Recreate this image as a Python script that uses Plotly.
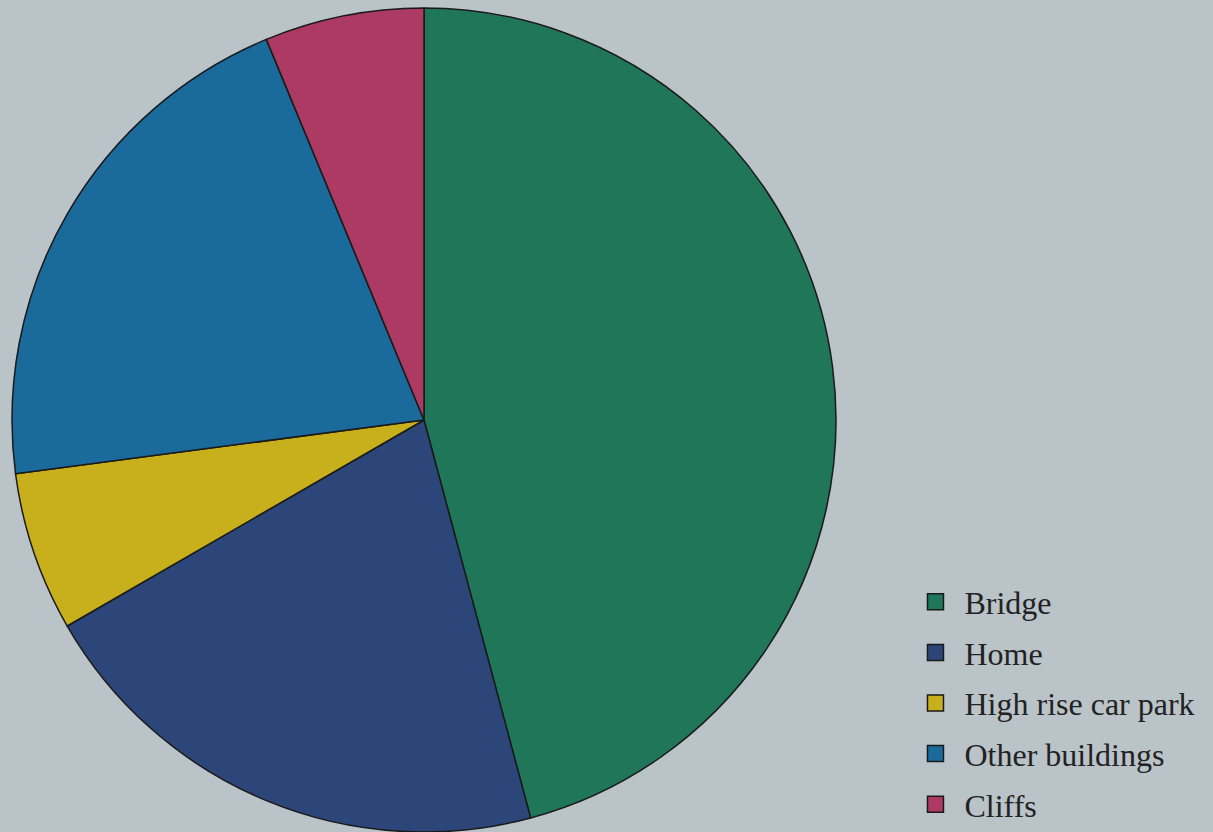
import plotly.graph_objects as go

labels = ["Bridge", "Home", "High rise car park", "Other buildings", "Cliffs"]
values = [22, 10, 3, 10, 3]
colors = ["#1f7658", "#2d4679", "#c8b01c", "#1a6b9c", "#ac3a62"]

bg = "#b9c3c8"

fig = go.Figure()
fig.add_trace(go.Pie(
    labels=labels, values=values, sort=False, direction="clockwise", rotation=0,
    marker=dict(colors=colors, line=dict(color="#1a1a1a", width=1.5)),
    textinfo="none", showlegend=False,
    domain=dict(x=[11/1213, 837/1213], y=[0, 824/832]),
))
for lab, col in zip(labels, colors):
    fig.add_trace(go.Scatter(
        x=[None], y=[None], mode="markers", name=lab, legendgroup=lab,
        marker=dict(symbol="square", size=18, color=col, line=dict(color="#1a1a1a", width=1.5)),
    ))

fig.update_layout(
    width=1213, height=832,
    margin=dict(l=0, r=0, t=0, b=0, autoexpand=False),
    paper_bgcolor=bg, plot_bgcolor=bg,
    xaxis=dict(visible=False), yaxis=dict(visible=False),
    legend=dict(
        x=0.7473, y=0.3095, xanchor="left", yanchor="top",
        font=dict(family="Liberation Serif", size=32, color="#222222"),
        tracegroupgap=6, bgcolor="rgba(0,0,0,0)",
        itemwidth=48,
    ),
)
fig.write_html("out.html")
